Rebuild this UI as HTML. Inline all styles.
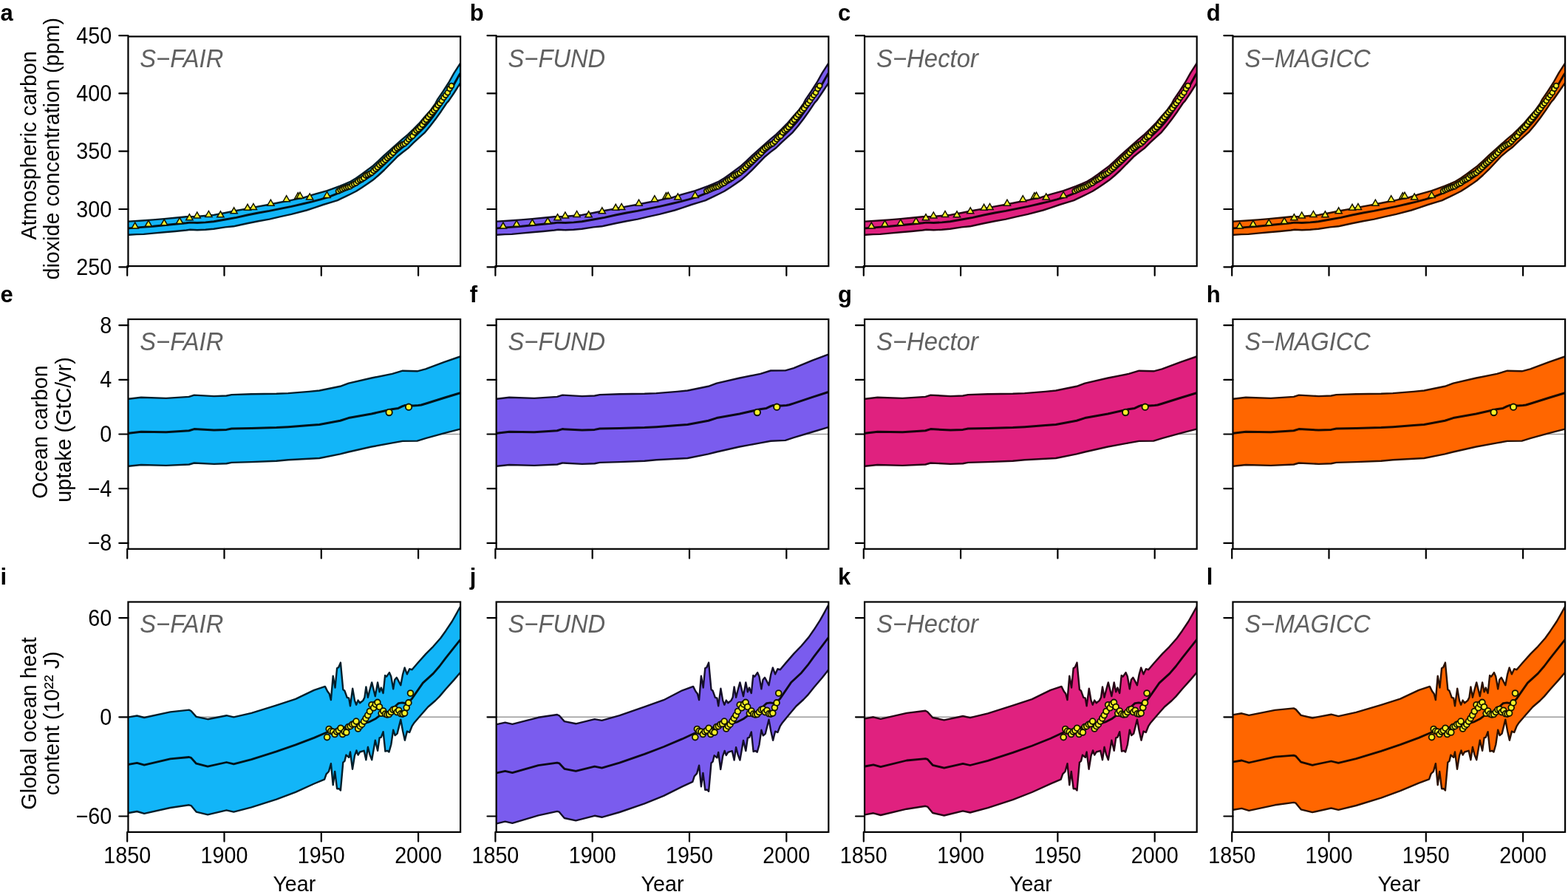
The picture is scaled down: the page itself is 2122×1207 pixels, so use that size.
<!DOCTYPE html>
<html lang="en">
<head>
<meta charset="utf-8">
<title>Model hindcasts: CO2, ocean carbon uptake, ocean heat content</title>
<style>
html,body{margin:0;padding:0;background:#fff;}
body{width:2122px;height:1207px;overflow:hidden;}
svg{display:block;font-family:"Liberation Sans",sans-serif;}
.fr{fill:none;stroke:#000;stroke-width:2.2;}
.tk{stroke:#000;stroke-width:2.2;stroke-linecap:round;fill:none;}
.tl{font-size:31.0px;fill:#000;}
.te{text-anchor:end;}
.tm{text-anchor:middle;}
.yl{font-size:29.3px;fill:#000;text-anchor:middle;}
.nm{font-size:34.5px;font-style:italic;fill:#606060;}
.pl{font-size:31px;font-weight:bold;fill:#000;}
.ob{fill:#f8f228;stroke:#141400;stroke-width:1.5;stroke-linejoin:miter;}
.zl{stroke:#9a9a9a;stroke-width:1.6;}
</style>
</head>
<body>
<svg width="2122" height="1207" viewBox="0 0 2122 1207">
<rect width="2122" height="1207" fill="#fff"/>
<defs>
<clipPath id="cp00"><rect x="173.45" y="49.4" width="449.65" height="310.7"/></clipPath>
<clipPath id="cp01"><rect x="671.65" y="49.4" width="449.65" height="310.7"/></clipPath>
<clipPath id="cp02"><rect x="1170.05" y="49.4" width="449.65" height="310.7"/></clipPath>
<clipPath id="cp03"><rect x="1668.45" y="49.4" width="449.65" height="310.7"/></clipPath>
<clipPath id="cp10"><rect x="173.45" y="432.0" width="449.65" height="310.8"/></clipPath>
<clipPath id="cp11"><rect x="671.65" y="432.0" width="449.65" height="310.8"/></clipPath>
<clipPath id="cp12"><rect x="1170.05" y="432.0" width="449.65" height="310.8"/></clipPath>
<clipPath id="cp13"><rect x="1668.45" y="432.0" width="449.65" height="310.8"/></clipPath>
<clipPath id="cp20"><rect x="173.45" y="814.5" width="449.65" height="311.4"/></clipPath>
<clipPath id="cp21"><rect x="671.65" y="814.5" width="449.65" height="311.4"/></clipPath>
<clipPath id="cp22"><rect x="1170.05" y="814.5" width="449.65" height="311.4"/></clipPath>
<clipPath id="cp23"><rect x="1668.45" y="814.5" width="449.65" height="311.4"/></clipPath>
</defs>
<g id="panel-a">
<g clip-path="url(#cp00)">
<polygon points="171.5,299.8 174.5,299.6 192.4,298.5 207.3,297.4 222.2,296.1 237.1,294.8 252.0,293.3 263.2,293.1 274.4,292.2 289.3,290.9 304.9,288.0 319.8,285.0 334.7,282.4 349.7,279.4 364.6,276.8 379.5,273.8 394.4,270.9 400.0,269.7 411.2,267.3 424.6,263.2 433.6,260.6 442.5,258.2 452.2,254.7 459.7,251.9 467.1,248.9 474.6,245.5 482.0,241.0 489.5,235.8 496.9,230.2 504.4,224.6 511.9,217.9 520.0,210.1 529.8,201.5 544.7,188.1 552.2,181.8 559.7,174.7 567.1,167.2 574.6,158.3 582.0,150.1 589.5,139.6 592.2,134.4 599.7,123.5 607.1,112.0 614.6,98.6 622.8,85.9 624.3,83.6 625.0,82.5 625.0,109.4 624.3,110.5 622.8,112.7 614.6,125.5 607.1,136.6 604.4,139.5 596.9,150.7 589.5,161.1 582.0,170.8 574.6,179.7 567.1,186.4 559.7,193.2 552.2,200.6 544.7,206.2 537.3,212.3 520.0,230.0 511.9,237.5 504.4,243.8 496.9,249.1 489.5,253.9 482.0,258.8 474.6,262.5 467.1,266.2 459.7,269.6 456.7,271.1 448.5,273.7 437.3,277.0 426.1,280.8 414.9,284.5 394.4,289.9 379.5,293.2 364.6,296.6 349.7,299.2 334.7,302.2 319.8,305.5 316.1,306.3 304.9,307.4 289.3,309.7 278.1,310.8 266.9,311.3 257.2,310.8 252.0,311.5 237.1,313.0 222.2,314.3 207.3,315.6 194.6,316.9 184.9,317.1 174.5,317.7 171.5,317.9" fill="#12b5f8" stroke="#031e2a" stroke-width="2.4" stroke-linejoin="round"/>
<polyline points="171.5,309.2 174.5,308.9 192.4,307.4 207.3,306.3 222.2,304.8 237.1,303.3 252.0,301.8 257.2,301.1 266.9,301.5 278.1,300.9 289.3,299.8 304.9,297.0 319.8,294.4 334.7,291.0 349.7,288.0 364.6,285.4 379.5,282.4 394.4,279.4 400.0,278.1 411.2,275.5 422.4,272.9 433.6,269.9 444.7,266.6 452.2,263.6 459.7,260.6 470.0,256.2 478.0,252.5 486.0,248.1 494.0,243.0 502.0,237.8 510.0,231.7 518.0,224.3 526.0,216.6 532.0,210.8 538.0,205.0 544.0,200.0 550.0,195.2 556.0,189.7 562.0,183.9 568.0,178.2 574.0,172.2 580.0,165.3 586.0,157.6 592.0,148.9 598.0,140.3 604.0,131.2 610.0,122.2 616.0,111.2 622.0,100.5 624.5,97.1 625.0,96.4" fill="none" stroke="#011218" stroke-width="2.9" stroke-linejoin="round"/>
<g class="ob"><polygon points="182.7,301.1 178.1,309.1 187.3,309.1"/>
<polygon points="200.9,298.3 196.3,306.3 205.5,306.3"/>
<polygon points="222.2,296.8 217.6,304.8 226.8,304.8"/>
<polygon points="243.1,294.6 238.5,302.6 247.7,302.6"/>
<polygon points="256.4,289.7 251.8,297.7 261.0,297.7"/>
<polygon points="266.7,287.0 262.1,295.0 271.3,295.0"/>
<polygon points="282.4,285.5 277.8,293.5 287.0,293.5"/>
<polygon points="298.4,285.8 293.8,293.8 303.0,293.8"/>
<polygon points="316.6,280.8 312.0,288.8 321.2,288.8"/>
<polygon points="335.0,276.3 330.4,284.3 339.6,284.3"/>
<polygon points="342.9,275.5 338.3,283.5 347.5,283.5"/>
<polygon points="366.4,270.2 361.8,278.2 371.0,278.2"/>
<polygon points="387.7,264.7 383.1,272.7 392.3,272.7"/>
<polygon points="403.3,260.7 398.7,268.7 407.9,268.7"/>
<polygon points="406.0,260.2 401.4,268.2 410.6,268.2"/>
<polygon points="419.2,261.9 414.6,269.9 423.8,269.9"/>
<polygon points="442.5,259.5 437.9,267.5 447.1,267.5"/>
<g stroke-width="1.8"><circle cx="458.0" cy="258.5" r="3.4"/>
<circle cx="460.7" cy="257.0" r="3.4"/>
<circle cx="463.3" cy="255.9" r="3.4"/>
<circle cx="465.9" cy="254.7" r="3.4"/>
<circle cx="468.6" cy="253.9" r="3.4"/>
<circle cx="471.2" cy="252.9" r="3.4"/>
<circle cx="473.9" cy="252.3" r="3.4"/>
<circle cx="476.5" cy="250.3" r="3.4"/>
<circle cx="479.1" cy="249.0" r="3.4"/>
<circle cx="481.8" cy="247.7" r="3.4"/>
<circle cx="484.4" cy="245.2" r="3.4"/>
<circle cx="487.1" cy="243.6" r="3.4"/>
<circle cx="489.7" cy="242.6" r="3.4"/>
<circle cx="492.3" cy="240.8" r="3.4"/>
<circle cx="495.0" cy="237.4" r="3.4"/>
<circle cx="497.6" cy="236.6" r="3.4"/>
<circle cx="500.2" cy="235.1" r="3.4"/>
<circle cx="502.9" cy="233.7" r="3.4"/>
<circle cx="505.5" cy="230.9" r="3.4"/>
<circle cx="508.2" cy="228.5" r="3.4"/>
<circle cx="510.8" cy="226.2" r="3.4"/>
<circle cx="513.4" cy="223.2" r="3.4"/>
<circle cx="516.1" cy="221.1" r="3.4"/>
<circle cx="518.7" cy="219.0" r="3.4"/>
<circle cx="521.3" cy="216.4" r="3.4"/>
<circle cx="524.0" cy="213.7" r="3.4"/>
<circle cx="526.6" cy="211.4" r="3.4"/>
<circle cx="529.3" cy="209.4" r="3.4"/>
<circle cx="531.9" cy="206.7" r="3.4"/>
<circle cx="534.5" cy="203.0" r="3.4"/>
<circle cx="537.2" cy="200.6" r="3.4"/>
<circle cx="539.8" cy="198.7" r="3.4"/>
<circle cx="542.5" cy="196.7" r="3.4"/>
<circle cx="545.1" cy="195.4" r="3.4"/>
<circle cx="547.7" cy="194.3" r="3.4"/>
<circle cx="550.4" cy="191.6" r="3.4"/>
<circle cx="553.0" cy="188.4" r="3.4"/>
<circle cx="555.6" cy="185.6" r="3.4"/>
<circle cx="558.3" cy="183.9" r="3.4"/>
<circle cx="560.9" cy="179.2" r="3.4"/>
<circle cx="563.6" cy="176.5" r="3.4"/>
<circle cx="566.2" cy="174.7" r="3.4"/>
<circle cx="568.8" cy="172.1" r="3.4"/>
<circle cx="571.5" cy="168.8" r="3.4"/>
<circle cx="574.1" cy="164.8" r="3.4"/>
<circle cx="576.7" cy="162.1" r="3.4"/>
<circle cx="579.4" cy="158.5" r="3.4"/>
<circle cx="582.0" cy="155.2" r="3.4"/>
<circle cx="584.7" cy="152.1" r="3.4"/>
<circle cx="587.3" cy="149.3" r="3.4"/>
<circle cx="589.9" cy="146.4" r="3.4"/>
<circle cx="592.6" cy="142.5" r="3.4"/>
<circle cx="595.2" cy="139.8" r="3.4"/>
<circle cx="597.8" cy="136.3" r="3.4"/>
<circle cx="600.5" cy="132.0" r="3.4"/>
<circle cx="603.1" cy="128.8" r="3.4"/>
<circle cx="605.8" cy="125.3" r="3.4"/>
<circle cx="608.4" cy="119.9" r="3.4"/>
<circle cx="611.0" cy="116.1" r="3.4"/></g></g>
</g>
<rect class="fr" x="173.45" y="49.4" width="449.65" height="310.7"/>
<path class="tk" d="M161.3,48.2H173.4M161.3,126.4H173.4M161.3,204.7H173.4M161.3,283.0H173.4M161.3,361.3H173.4M172.2,360.1V372.8M303.5,360.1V372.8M434.8,360.1V372.8M566.1,360.1V372.8"/>
<text class="tl te" transform="translate(151.3,58.7) scale(0.927,1)">450</text>
<text class="tl te" transform="translate(151.3,136.9) scale(0.927,1)">400</text>
<text class="tl te" transform="translate(151.3,215.2) scale(0.927,1)">350</text>
<text class="tl te" transform="translate(151.3,293.5) scale(0.927,1)">300</text>
<text class="tl te" transform="translate(151.3,371.8) scale(0.927,1)">250</text>
<text class="yl" transform="translate(48.9,196.8) rotate(-90) scale(0.981,1)">Atmospheric carbon</text>
<text class="yl" transform="translate(80.3,201.3) rotate(-90) scale(0.981,1)">dioxide concentration (ppm)</text>
<text class="nm" transform="translate(189.3,90.9) scale(0.948,1)">S−FAIR</text>
<text class="pl" transform="translate(0.5,27.5)">a</text>
</g>
<g id="panel-b">
<g clip-path="url(#cp01)">
<polygon points="669.7,299.8 672.7,299.6 690.6,298.5 705.5,297.4 720.4,296.1 735.3,294.8 750.2,293.3 761.4,293.1 772.6,292.2 787.5,290.9 803.1,288.0 818.0,285.0 832.9,282.4 847.9,279.4 862.8,276.8 877.7,273.8 892.6,270.9 898.2,269.7 909.4,267.3 922.8,263.2 931.8,260.6 940.7,258.2 950.4,254.7 957.9,251.9 965.3,248.9 972.8,245.5 980.2,241.0 987.7,235.8 995.1,230.2 1002.6,224.6 1010.1,217.9 1018.2,210.1 1028.0,201.5 1042.9,188.1 1050.4,181.8 1057.9,174.7 1065.3,167.2 1072.8,158.3 1080.2,150.1 1087.7,139.6 1090.4,134.4 1097.9,123.5 1105.3,112.0 1112.8,98.6 1121.0,85.9 1122.5,83.6 1123.2,82.5 1123.2,109.4 1122.5,110.5 1121.0,112.6 1112.8,125.0 1105.3,136.0 1102.6,138.9 1095.1,150.1 1087.7,160.5 1080.2,170.2 1072.8,179.1 1065.3,185.8 1057.9,192.6 1050.4,200.0 1042.9,205.6 1035.5,211.7 1018.2,229.7 1010.1,237.3 1002.6,243.8 995.1,249.1 987.7,253.9 980.2,258.8 972.8,262.5 965.3,266.2 957.9,269.6 954.9,271.1 946.7,273.7 935.5,277.0 924.3,280.8 913.1,284.5 892.6,289.9 877.7,293.2 862.8,296.6 847.9,299.2 832.9,302.2 818.0,305.5 814.3,306.3 803.1,307.4 787.5,309.7 776.3,310.8 765.1,311.3 755.4,310.8 750.2,311.5 735.3,313.0 720.4,314.3 705.5,315.6 692.8,316.9 683.1,317.1 672.7,317.7 669.7,317.9" fill="#7a5cee" stroke="#140f28" stroke-width="2.4" stroke-linejoin="round"/>
<polyline points="669.7,309.2 672.7,308.9 690.6,307.4 705.5,306.3 720.4,304.8 735.3,303.3 750.2,301.8 755.4,301.1 765.1,301.5 776.3,300.9 787.5,299.8 803.1,297.0 818.0,294.4 832.9,291.0 847.9,288.0 862.8,285.4 877.7,282.4 892.6,279.4 898.2,278.1 909.4,275.5 920.6,272.9 931.8,269.9 942.9,266.6 950.4,263.6 957.9,260.6 968.2,256.2 976.2,252.5 984.2,248.1 992.2,243.0 1000.2,237.8 1008.2,231.6 1016.2,224.2 1024.2,216.4 1030.2,210.6 1036.2,204.7 1042.2,199.7 1048.2,194.9 1054.2,189.4 1060.2,183.6 1066.2,177.9 1072.2,171.9 1078.2,165.0 1084.2,157.3 1090.2,148.6 1096.2,140.0 1102.2,130.9 1108.2,121.9 1114.2,111.0 1120.2,100.4 1122.7,97.1 1123.2,96.4" fill="none" stroke="#0c0917" stroke-width="2.9" stroke-linejoin="round"/>
<g class="ob"><polygon points="680.9,301.1 676.3,309.1 685.5,309.1"/>
<polygon points="699.1,298.3 694.5,306.3 703.7,306.3"/>
<polygon points="720.4,296.8 715.8,304.8 725.0,304.8"/>
<polygon points="741.3,294.6 736.7,302.6 745.9,302.6"/>
<polygon points="754.6,289.7 750.0,297.7 759.2,297.7"/>
<polygon points="764.9,287.0 760.3,295.0 769.5,295.0"/>
<polygon points="780.6,285.5 776.0,293.5 785.2,293.5"/>
<polygon points="796.6,285.8 792.0,293.8 801.2,293.8"/>
<polygon points="814.8,280.8 810.2,288.8 819.4,288.8"/>
<polygon points="833.2,276.3 828.6,284.3 837.8,284.3"/>
<polygon points="841.1,275.5 836.5,283.5 845.7,283.5"/>
<polygon points="864.6,270.2 860.0,278.2 869.2,278.2"/>
<polygon points="885.9,264.7 881.3,272.7 890.5,272.7"/>
<polygon points="901.5,260.7 896.9,268.7 906.1,268.7"/>
<polygon points="904.2,260.2 899.6,268.2 908.8,268.2"/>
<polygon points="917.4,261.9 912.8,269.9 922.0,269.9"/>
<polygon points="940.7,259.5 936.1,267.5 945.3,267.5"/>
<g stroke-width="1.8"><circle cx="956.2" cy="258.5" r="3.4"/>
<circle cx="958.9" cy="257.0" r="3.4"/>
<circle cx="961.5" cy="255.9" r="3.4"/>
<circle cx="964.1" cy="254.7" r="3.4"/>
<circle cx="966.8" cy="253.9" r="3.4"/>
<circle cx="969.4" cy="252.9" r="3.4"/>
<circle cx="972.1" cy="252.3" r="3.4"/>
<circle cx="974.7" cy="250.3" r="3.4"/>
<circle cx="977.3" cy="249.0" r="3.4"/>
<circle cx="980.0" cy="247.7" r="3.4"/>
<circle cx="982.6" cy="245.2" r="3.4"/>
<circle cx="985.3" cy="243.6" r="3.4"/>
<circle cx="987.9" cy="242.6" r="3.4"/>
<circle cx="990.5" cy="240.8" r="3.4"/>
<circle cx="993.2" cy="237.4" r="3.4"/>
<circle cx="995.8" cy="236.6" r="3.4"/>
<circle cx="998.4" cy="235.1" r="3.4"/>
<circle cx="1001.1" cy="233.7" r="3.4"/>
<circle cx="1003.7" cy="230.9" r="3.4"/>
<circle cx="1006.4" cy="228.5" r="3.4"/>
<circle cx="1009.0" cy="226.2" r="3.4"/>
<circle cx="1011.6" cy="223.2" r="3.4"/>
<circle cx="1014.3" cy="221.1" r="3.4"/>
<circle cx="1016.9" cy="219.0" r="3.4"/>
<circle cx="1019.5" cy="216.4" r="3.4"/>
<circle cx="1022.2" cy="213.7" r="3.4"/>
<circle cx="1024.8" cy="211.4" r="3.4"/>
<circle cx="1027.5" cy="209.4" r="3.4"/>
<circle cx="1030.1" cy="206.7" r="3.4"/>
<circle cx="1032.7" cy="203.0" r="3.4"/>
<circle cx="1035.4" cy="200.6" r="3.4"/>
<circle cx="1038.0" cy="198.7" r="3.4"/>
<circle cx="1040.7" cy="196.7" r="3.4"/>
<circle cx="1043.3" cy="195.4" r="3.4"/>
<circle cx="1045.9" cy="194.3" r="3.4"/>
<circle cx="1048.6" cy="191.6" r="3.4"/>
<circle cx="1051.2" cy="188.4" r="3.4"/>
<circle cx="1053.8" cy="185.6" r="3.4"/>
<circle cx="1056.5" cy="183.9" r="3.4"/>
<circle cx="1059.1" cy="179.2" r="3.4"/>
<circle cx="1061.8" cy="176.5" r="3.4"/>
<circle cx="1064.4" cy="174.7" r="3.4"/>
<circle cx="1067.0" cy="172.1" r="3.4"/>
<circle cx="1069.7" cy="168.8" r="3.4"/>
<circle cx="1072.3" cy="164.8" r="3.4"/>
<circle cx="1074.9" cy="162.1" r="3.4"/>
<circle cx="1077.6" cy="158.5" r="3.4"/>
<circle cx="1080.2" cy="155.2" r="3.4"/>
<circle cx="1082.9" cy="152.1" r="3.4"/>
<circle cx="1085.5" cy="149.3" r="3.4"/>
<circle cx="1088.1" cy="146.4" r="3.4"/>
<circle cx="1090.8" cy="142.5" r="3.4"/>
<circle cx="1093.4" cy="139.8" r="3.4"/>
<circle cx="1096.0" cy="136.3" r="3.4"/>
<circle cx="1098.7" cy="132.0" r="3.4"/>
<circle cx="1101.3" cy="128.8" r="3.4"/>
<circle cx="1104.0" cy="125.3" r="3.4"/>
<circle cx="1106.6" cy="119.9" r="3.4"/>
<circle cx="1109.2" cy="116.1" r="3.4"/></g></g>
</g>
<rect class="fr" x="671.65" y="49.4" width="449.65" height="310.7"/>
<path class="tk" d="M659.5,48.2H671.6M659.5,126.4H671.6M659.5,204.7H671.6M659.5,283.0H671.6M659.5,361.3H671.6M670.4,360.1V372.8M801.7,360.1V372.8M933.0,360.1V372.8M1064.3,360.1V372.8"/>
<text class="nm" transform="translate(687.5,90.9) scale(0.948,1)">S−FUND</text>
<text class="pl" transform="translate(635.8,27.5)">b</text>
</g>
<g id="panel-c">
<g clip-path="url(#cp02)">
<polygon points="1168.1,299.8 1171.1,299.6 1189.0,298.5 1203.9,297.4 1218.8,296.1 1233.7,294.8 1248.6,293.3 1259.8,293.1 1271.0,292.2 1285.9,290.9 1301.5,288.0 1316.4,285.0 1331.3,282.4 1346.3,279.4 1361.2,276.8 1376.1,273.8 1391.0,270.9 1396.6,269.7 1407.8,267.3 1421.2,263.2 1430.2,260.6 1439.1,258.2 1448.8,254.7 1456.3,251.9 1463.7,248.9 1471.2,245.5 1478.6,241.0 1486.1,235.8 1493.5,230.2 1501.0,224.6 1508.5,217.9 1516.6,210.1 1526.4,201.5 1541.3,188.1 1548.8,181.8 1556.3,174.7 1563.7,167.2 1571.2,158.3 1578.6,150.1 1586.1,139.6 1588.8,134.4 1596.3,123.5 1603.7,112.0 1611.2,98.6 1619.4,85.9 1620.9,83.6 1621.6,82.5 1621.6,109.4 1620.9,110.5 1619.4,112.7 1611.2,125.5 1603.7,136.6 1601.0,139.5 1593.5,150.7 1586.1,161.1 1578.6,170.8 1571.2,179.7 1563.7,186.4 1556.3,193.2 1548.8,200.6 1541.3,206.2 1533.9,212.3 1516.6,230.0 1508.5,237.5 1501.0,243.8 1493.5,249.1 1486.1,253.9 1478.6,258.8 1471.2,262.5 1463.7,266.2 1456.3,269.6 1453.3,271.1 1445.1,273.7 1433.9,277.0 1422.7,280.8 1411.5,284.5 1391.0,289.9 1376.1,293.2 1361.2,296.6 1346.3,299.2 1331.3,302.2 1316.4,305.5 1312.7,306.3 1301.5,307.4 1285.9,309.7 1274.7,310.8 1263.5,311.3 1253.8,310.8 1248.6,311.5 1233.7,313.0 1218.8,314.3 1203.9,315.6 1191.2,316.9 1181.5,317.1 1171.1,317.7 1168.1,317.9" fill="#e0217f" stroke="#260515" stroke-width="2.4" stroke-linejoin="round"/>
<polyline points="1168.1,309.2 1171.1,308.9 1189.0,307.4 1203.9,306.3 1218.8,304.8 1233.7,303.3 1248.6,301.8 1253.8,301.1 1263.5,301.5 1274.7,300.9 1285.9,299.8 1301.5,297.0 1316.4,294.4 1331.3,291.0 1346.3,288.0 1361.2,285.4 1376.1,282.4 1391.0,279.4 1396.6,278.1 1407.8,275.5 1419.0,272.9 1430.2,269.9 1441.3,266.6 1448.8,263.6 1456.3,260.6 1466.6,256.2 1474.6,252.5 1482.6,248.1 1490.6,243.0 1498.6,237.8 1506.6,231.7 1514.6,224.3 1522.6,216.6 1528.6,210.8 1534.6,205.0 1540.6,200.0 1546.6,195.2 1552.6,189.7 1558.6,183.9 1564.6,178.2 1570.6,172.2 1576.6,165.3 1582.6,157.6 1588.6,148.9 1594.6,140.3 1600.6,131.2 1606.6,122.2 1612.6,111.2 1618.6,100.5 1621.1,97.1 1621.6,96.4" fill="none" stroke="#16030c" stroke-width="2.9" stroke-linejoin="round"/>
<g class="ob"><polygon points="1179.3,301.1 1174.7,309.1 1183.9,309.1"/>
<polygon points="1197.5,298.3 1192.9,306.3 1202.1,306.3"/>
<polygon points="1218.8,296.8 1214.2,304.8 1223.4,304.8"/>
<polygon points="1239.7,294.6 1235.1,302.6 1244.3,302.6"/>
<polygon points="1253.0,289.7 1248.4,297.7 1257.6,297.7"/>
<polygon points="1263.3,287.0 1258.7,295.0 1267.9,295.0"/>
<polygon points="1279.0,285.5 1274.4,293.5 1283.6,293.5"/>
<polygon points="1295.0,285.8 1290.4,293.8 1299.6,293.8"/>
<polygon points="1313.2,280.8 1308.6,288.8 1317.8,288.8"/>
<polygon points="1331.6,276.3 1327.0,284.3 1336.2,284.3"/>
<polygon points="1339.5,275.5 1334.9,283.5 1344.1,283.5"/>
<polygon points="1363.0,270.2 1358.4,278.2 1367.6,278.2"/>
<polygon points="1384.3,264.7 1379.7,272.7 1388.9,272.7"/>
<polygon points="1399.9,260.7 1395.3,268.7 1404.5,268.7"/>
<polygon points="1402.6,260.2 1398.0,268.2 1407.2,268.2"/>
<polygon points="1415.8,261.9 1411.2,269.9 1420.4,269.9"/>
<polygon points="1439.1,259.5 1434.5,267.5 1443.7,267.5"/>
<g stroke-width="1.8"><circle cx="1454.6" cy="258.5" r="3.4"/>
<circle cx="1457.3" cy="257.0" r="3.4"/>
<circle cx="1459.9" cy="255.9" r="3.4"/>
<circle cx="1462.5" cy="254.7" r="3.4"/>
<circle cx="1465.2" cy="253.9" r="3.4"/>
<circle cx="1467.8" cy="252.9" r="3.4"/>
<circle cx="1470.5" cy="252.3" r="3.4"/>
<circle cx="1473.1" cy="250.3" r="3.4"/>
<circle cx="1475.7" cy="249.0" r="3.4"/>
<circle cx="1478.4" cy="247.7" r="3.4"/>
<circle cx="1481.0" cy="245.2" r="3.4"/>
<circle cx="1483.7" cy="243.6" r="3.4"/>
<circle cx="1486.3" cy="242.6" r="3.4"/>
<circle cx="1488.9" cy="240.8" r="3.4"/>
<circle cx="1491.6" cy="237.4" r="3.4"/>
<circle cx="1494.2" cy="236.6" r="3.4"/>
<circle cx="1496.8" cy="235.1" r="3.4"/>
<circle cx="1499.5" cy="233.7" r="3.4"/>
<circle cx="1502.1" cy="230.9" r="3.4"/>
<circle cx="1504.8" cy="228.5" r="3.4"/>
<circle cx="1507.4" cy="226.2" r="3.4"/>
<circle cx="1510.0" cy="223.2" r="3.4"/>
<circle cx="1512.7" cy="221.1" r="3.4"/>
<circle cx="1515.3" cy="219.0" r="3.4"/>
<circle cx="1517.9" cy="216.4" r="3.4"/>
<circle cx="1520.6" cy="213.7" r="3.4"/>
<circle cx="1523.2" cy="211.4" r="3.4"/>
<circle cx="1525.9" cy="209.4" r="3.4"/>
<circle cx="1528.5" cy="206.7" r="3.4"/>
<circle cx="1531.1" cy="203.0" r="3.4"/>
<circle cx="1533.8" cy="200.6" r="3.4"/>
<circle cx="1536.4" cy="198.7" r="3.4"/>
<circle cx="1539.1" cy="196.7" r="3.4"/>
<circle cx="1541.7" cy="195.4" r="3.4"/>
<circle cx="1544.3" cy="194.3" r="3.4"/>
<circle cx="1547.0" cy="191.6" r="3.4"/>
<circle cx="1549.6" cy="188.4" r="3.4"/>
<circle cx="1552.2" cy="185.6" r="3.4"/>
<circle cx="1554.9" cy="183.9" r="3.4"/>
<circle cx="1557.5" cy="179.2" r="3.4"/>
<circle cx="1560.2" cy="176.5" r="3.4"/>
<circle cx="1562.8" cy="174.7" r="3.4"/>
<circle cx="1565.4" cy="172.1" r="3.4"/>
<circle cx="1568.1" cy="168.8" r="3.4"/>
<circle cx="1570.7" cy="164.8" r="3.4"/>
<circle cx="1573.3" cy="162.1" r="3.4"/>
<circle cx="1576.0" cy="158.5" r="3.4"/>
<circle cx="1578.6" cy="155.2" r="3.4"/>
<circle cx="1581.3" cy="152.1" r="3.4"/>
<circle cx="1583.9" cy="149.3" r="3.4"/>
<circle cx="1586.5" cy="146.4" r="3.4"/>
<circle cx="1589.2" cy="142.5" r="3.4"/>
<circle cx="1591.8" cy="139.8" r="3.4"/>
<circle cx="1594.4" cy="136.3" r="3.4"/>
<circle cx="1597.1" cy="132.0" r="3.4"/>
<circle cx="1599.7" cy="128.8" r="3.4"/>
<circle cx="1602.4" cy="125.3" r="3.4"/>
<circle cx="1605.0" cy="119.9" r="3.4"/>
<circle cx="1607.6" cy="116.1" r="3.4"/></g></g>
</g>
<rect class="fr" x="1170.05" y="49.4" width="449.65" height="310.7"/>
<path class="tk" d="M1158.0,48.2H1170.0M1158.0,126.4H1170.0M1158.0,204.7H1170.0M1158.0,283.0H1170.0M1158.0,361.3H1170.0M1168.8,360.1V372.8M1300.1,360.1V372.8M1431.4,360.1V372.8M1562.7,360.1V372.8"/>
<text class="nm" transform="translate(1186.0,90.9) scale(0.953,1)">S−Hector</text>
<text class="pl" transform="translate(1134.0,27.5)">c</text>
</g>
<g id="panel-d">
<g clip-path="url(#cp03)">
<polygon points="1666.5,299.8 1669.5,299.6 1687.4,298.5 1702.3,297.4 1717.2,296.1 1732.1,294.8 1747.0,293.3 1758.2,293.1 1769.4,292.2 1784.3,290.9 1799.9,288.0 1814.8,285.0 1829.7,282.4 1844.7,279.4 1859.6,276.8 1874.5,273.8 1889.4,270.9 1895.0,269.7 1906.2,267.3 1919.6,263.2 1928.6,260.6 1937.5,258.2 1947.2,254.7 1954.7,251.9 1962.1,248.9 1969.6,245.5 1977.0,241.0 1984.5,235.8 1991.9,230.2 1999.4,224.6 2006.9,217.9 2015.0,210.1 2024.8,201.5 2039.7,188.1 2047.2,181.8 2054.7,174.7 2062.1,167.2 2069.6,158.3 2077.0,150.1 2084.5,139.6 2087.2,134.4 2094.7,123.5 2102.1,112.0 2109.6,98.6 2117.8,85.9 2119.3,83.6 2120.0,82.5 2120.0,109.4 2119.3,110.4 2117.8,112.5 2109.6,124.2 2102.1,135.0 2099.4,137.9 2091.9,149.1 2084.5,159.5 2077.0,169.2 2069.6,178.1 2062.1,184.8 2054.7,191.6 2047.2,199.0 2039.7,204.6 2032.3,210.8 2015.0,229.2 2006.9,237.0 1999.4,243.7 1991.9,249.1 1984.5,253.9 1977.0,258.8 1969.6,262.5 1962.1,266.2 1954.7,269.6 1951.7,271.1 1943.5,273.7 1932.3,277.0 1921.1,280.8 1909.9,284.5 1889.4,289.9 1874.5,293.2 1859.6,296.6 1844.7,299.2 1829.7,302.2 1814.8,305.5 1811.1,306.3 1799.9,307.4 1784.3,309.7 1773.1,310.8 1761.9,311.3 1752.2,310.8 1747.0,311.5 1732.1,313.0 1717.2,314.3 1702.3,315.6 1689.6,316.9 1679.9,317.1 1669.5,317.7 1666.5,317.9" fill="#ff6600" stroke="#2b1100" stroke-width="2.4" stroke-linejoin="round"/>
<polyline points="1666.5,309.2 1669.5,308.9 1687.4,307.4 1702.3,306.3 1717.2,304.8 1732.1,303.3 1747.0,301.8 1752.2,301.1 1761.9,301.5 1773.1,300.9 1784.3,299.8 1799.9,297.0 1814.8,294.4 1829.7,291.0 1844.7,288.0 1859.6,285.4 1874.5,282.4 1889.4,279.4 1895.0,278.1 1906.2,275.5 1917.4,272.9 1928.6,269.9 1939.7,266.6 1947.2,263.6 1954.7,260.6 1965.0,256.2 1973.0,252.5 1981.0,248.1 1989.0,243.0 1997.0,237.8 2005.0,231.5 2013.0,224.0 2021.0,216.1 2027.0,210.2 2033.0,204.3 2039.0,199.2 2045.0,194.4 2051.0,188.9 2057.0,183.1 2063.0,177.4 2069.0,171.4 2075.0,164.5 2081.0,156.8 2087.0,148.1 2093.0,139.5 2099.0,130.4 2105.0,121.4 2111.0,110.6 2117.0,100.3 2119.5,97.0 2120.0,96.4" fill="none" stroke="#190a00" stroke-width="2.9" stroke-linejoin="round"/>
<g class="ob"><polygon points="1677.7,301.1 1673.1,309.1 1682.3,309.1"/>
<polygon points="1695.9,298.3 1691.3,306.3 1700.5,306.3"/>
<polygon points="1717.2,296.8 1712.6,304.8 1721.8,304.8"/>
<polygon points="1738.1,294.6 1733.5,302.6 1742.7,302.6"/>
<polygon points="1751.4,289.7 1746.8,297.7 1756.0,297.7"/>
<polygon points="1761.7,287.0 1757.1,295.0 1766.3,295.0"/>
<polygon points="1777.4,285.5 1772.8,293.5 1782.0,293.5"/>
<polygon points="1793.4,285.8 1788.8,293.8 1798.0,293.8"/>
<polygon points="1811.6,280.8 1807.0,288.8 1816.2,288.8"/>
<polygon points="1830.0,276.3 1825.4,284.3 1834.6,284.3"/>
<polygon points="1837.9,275.5 1833.3,283.5 1842.5,283.5"/>
<polygon points="1861.4,270.2 1856.8,278.2 1866.0,278.2"/>
<polygon points="1882.7,264.7 1878.1,272.7 1887.3,272.7"/>
<polygon points="1898.3,260.7 1893.7,268.7 1902.9,268.7"/>
<polygon points="1901.0,260.2 1896.4,268.2 1905.6,268.2"/>
<polygon points="1914.2,261.9 1909.6,269.9 1918.8,269.9"/>
<polygon points="1937.5,259.5 1932.9,267.5 1942.1,267.5"/>
<g stroke-width="1.8"><circle cx="1953.0" cy="258.5" r="3.4"/>
<circle cx="1955.7" cy="257.0" r="3.4"/>
<circle cx="1958.3" cy="255.9" r="3.4"/>
<circle cx="1960.9" cy="254.7" r="3.4"/>
<circle cx="1963.6" cy="253.9" r="3.4"/>
<circle cx="1966.2" cy="252.9" r="3.4"/>
<circle cx="1968.9" cy="252.3" r="3.4"/>
<circle cx="1971.5" cy="250.3" r="3.4"/>
<circle cx="1974.1" cy="249.0" r="3.4"/>
<circle cx="1976.8" cy="247.7" r="3.4"/>
<circle cx="1979.4" cy="245.2" r="3.4"/>
<circle cx="1982.1" cy="243.6" r="3.4"/>
<circle cx="1984.7" cy="242.6" r="3.4"/>
<circle cx="1987.3" cy="240.8" r="3.4"/>
<circle cx="1990.0" cy="237.4" r="3.4"/>
<circle cx="1992.6" cy="236.6" r="3.4"/>
<circle cx="1995.2" cy="235.1" r="3.4"/>
<circle cx="1997.9" cy="233.7" r="3.4"/>
<circle cx="2000.5" cy="230.9" r="3.4"/>
<circle cx="2003.2" cy="228.5" r="3.4"/>
<circle cx="2005.8" cy="226.2" r="3.4"/>
<circle cx="2008.4" cy="223.2" r="3.4"/>
<circle cx="2011.1" cy="221.1" r="3.4"/>
<circle cx="2013.7" cy="219.0" r="3.4"/>
<circle cx="2016.3" cy="216.4" r="3.4"/>
<circle cx="2019.0" cy="213.7" r="3.4"/>
<circle cx="2021.6" cy="211.4" r="3.4"/>
<circle cx="2024.3" cy="209.4" r="3.4"/>
<circle cx="2026.9" cy="206.7" r="3.4"/>
<circle cx="2029.5" cy="203.0" r="3.4"/>
<circle cx="2032.2" cy="200.6" r="3.4"/>
<circle cx="2034.8" cy="198.7" r="3.4"/>
<circle cx="2037.5" cy="196.7" r="3.4"/>
<circle cx="2040.1" cy="195.4" r="3.4"/>
<circle cx="2042.7" cy="194.3" r="3.4"/>
<circle cx="2045.4" cy="191.6" r="3.4"/>
<circle cx="2048.0" cy="188.4" r="3.4"/>
<circle cx="2050.6" cy="185.6" r="3.4"/>
<circle cx="2053.3" cy="183.9" r="3.4"/>
<circle cx="2055.9" cy="179.2" r="3.4"/>
<circle cx="2058.6" cy="176.5" r="3.4"/>
<circle cx="2061.2" cy="174.7" r="3.4"/>
<circle cx="2063.8" cy="172.1" r="3.4"/>
<circle cx="2066.5" cy="168.8" r="3.4"/>
<circle cx="2069.1" cy="164.8" r="3.4"/>
<circle cx="2071.7" cy="162.1" r="3.4"/>
<circle cx="2074.4" cy="158.5" r="3.4"/>
<circle cx="2077.0" cy="155.2" r="3.4"/>
<circle cx="2079.7" cy="152.1" r="3.4"/>
<circle cx="2082.3" cy="149.3" r="3.4"/>
<circle cx="2084.9" cy="146.4" r="3.4"/>
<circle cx="2087.6" cy="142.5" r="3.4"/>
<circle cx="2090.2" cy="139.8" r="3.4"/>
<circle cx="2092.8" cy="136.3" r="3.4"/>
<circle cx="2095.5" cy="132.0" r="3.4"/>
<circle cx="2098.1" cy="128.8" r="3.4"/>
<circle cx="2100.8" cy="125.3" r="3.4"/>
<circle cx="2103.4" cy="119.9" r="3.4"/>
<circle cx="2106.0" cy="116.1" r="3.4"/></g></g>
</g>
<rect class="fr" x="1668.45" y="49.4" width="449.65" height="310.7"/>
<path class="tk" d="M1656.4,48.2H1668.5M1656.4,126.4H1668.5M1656.4,204.7H1668.5M1656.4,283.0H1668.5M1656.4,361.3H1668.5M1667.2,360.1V372.8M1798.5,360.1V372.8M1929.8,360.1V372.8M2061.1,360.1V372.8"/>
<text class="nm" transform="translate(1684.4,90.9) scale(0.94,1)">S−MAGICC</text>
<text class="pl" transform="translate(1632.8,27.5)">d</text>
</g>
<g id="panel-e">
<g clip-path="url(#cp10)">
<line class="zl" x1="173.4" x2="623.1" y1="587.5" y2="587.5"/>
<polygon points="171.5,540.0 174.1,539.7 191.0,537.7 224.8,538.9 255.8,536.9 262.8,534.6 289.6,536.1 306.5,535.5 313.5,534.1 340.3,533.2 374.1,532.7 390.0,532.1 418.2,529.9 432.3,528.5 460.4,522.8 471.7,518.6 502.7,511.5 530.8,505.9 544.9,501.7 564.6,502.3 575.9,499.4 601.3,489.9 622.7,482.5 625.0,481.7 625.0,580.0 622.7,580.6 601.3,586.2 575.9,593.2 564.6,596.6 544.9,596.9 530.8,599.4 502.7,604.5 471.7,611.5 460.4,614.4 432.3,620.0 418.2,620.8 390.0,622.3 374.1,623.7 340.3,625.1 313.5,625.9 306.5,627.3 289.6,627.9 262.8,626.5 255.8,628.5 224.8,629.9 191.0,629.0 174.1,630.7 171.5,631.0" fill="#12b5f8" stroke="#031e2a" stroke-width="2.4" stroke-linejoin="round"/>
<polyline points="171.5,586.5 174.1,586.2 191.0,584.2 224.8,584.8 255.8,582.8 262.8,580.6 289.6,582.0 306.5,581.4 313.5,580.0 340.3,579.4 374.1,578.6 390.0,577.7 418.2,575.5 432.3,574.4 460.4,569.3 471.7,565.6 502.7,560.0 530.3,553.8 539.0,552.4 544.8,549.6 547.7,548.6 553.0,548.4 559.3,549.0 566.0,548.6 570.0,548.0 575.9,546.2 601.3,538.3 622.7,531.8 625.0,531.1" fill="none" stroke="#011218" stroke-width="3.0" stroke-linejoin="round"/>
<g class="ob"><g stroke-width="1.9"><circle cx="526.6" cy="558.0" r="4.2"/>
<circle cx="553.1" cy="550.7" r="4.2"/></g></g>
</g>
<rect class="fr" x="173.45" y="432.0" width="449.65" height="310.8"/>
<path class="tk" d="M161.3,440.2H173.4M161.3,513.9H173.4M161.3,587.5H173.4M161.3,661.1H173.4M161.3,734.9H173.4M172.2,742.8V755.5M303.5,742.8V755.5M434.8,742.8V755.5M566.1,742.8V755.5"/>
<text class="tl te" transform="translate(151.3,450.7) scale(0.927,1)">8</text>
<text class="tl te" transform="translate(151.3,524.4) scale(0.927,1)">4</text>
<text class="tl te" transform="translate(151.3,598.0) scale(0.927,1)">0</text>
<text class="tl te" transform="translate(151.3,671.6) scale(0.927,1)">−4</text>
<text class="tl te" transform="translate(151.3,745.4) scale(0.927,1)">−8</text>
<text class="yl" transform="translate(63.8,584.5) rotate(-90) scale(0.981,1)">Ocean carbon</text>
<text class="yl" transform="translate(95.5,581.5) rotate(-90) scale(0.981,1)">uptake (GtC/yr)</text>
<text class="nm" transform="translate(189.3,473.5) scale(0.948,1)">S−FAIR</text>
<text class="pl" transform="translate(0.5,408.8)">e</text>
</g>
<g id="panel-f">
<g clip-path="url(#cp11)">
<line class="zl" x1="671.6" x2="1121.3" y1="587.5" y2="587.5"/>
<polygon points="669.7,540.0 672.3,539.7 689.2,537.7 723.0,538.9 754.0,536.9 761.0,534.6 787.8,536.1 804.7,535.5 811.7,534.1 838.5,533.2 872.3,532.7 888.2,532.1 916.4,529.9 930.5,528.5 958.6,522.8 969.9,518.6 1000.9,511.5 1029.0,505.9 1043.1,501.5 1062.8,501.4 1074.1,498.2 1099.5,487.7 1120.9,479.6 1123.2,478.7 1123.2,577.6 1120.9,578.2 1099.5,584.5 1074.1,592.2 1062.8,595.9 1043.1,596.8 1029.0,599.4 1000.9,604.5 969.9,611.5 958.6,614.4 930.5,620.0 916.4,620.8 888.2,622.3 872.3,623.7 838.5,625.1 811.7,625.9 804.7,627.3 787.8,627.9 761.0,626.5 754.0,628.5 723.0,629.9 689.2,629.0 672.3,630.7 669.7,631.0" fill="#7a5cee" stroke="#140f28" stroke-width="2.4" stroke-linejoin="round"/>
<polyline points="669.7,586.5 672.3,586.2 689.2,584.2 723.0,584.8 754.0,582.8 761.0,580.6 787.8,582.0 804.7,581.4 811.7,580.0 838.5,579.4 872.3,578.6 888.2,577.7 916.4,575.5 930.5,574.4 958.6,569.3 969.9,565.6 1000.9,560.0 1028.5,553.8 1037.2,552.4 1043.0,549.6 1045.9,548.6 1051.2,548.4 1057.5,549.0 1064.2,548.5 1068.2,547.8 1074.1,545.9 1099.5,537.4 1120.9,530.5 1123.2,529.7" fill="none" stroke="#0c0917" stroke-width="3.0" stroke-linejoin="round"/>
<g class="ob"><g stroke-width="1.9"><circle cx="1024.8" cy="558.0" r="4.2"/>
<circle cx="1051.3" cy="550.7" r="4.2"/></g></g>
</g>
<rect class="fr" x="671.65" y="432.0" width="449.65" height="310.8"/>
<path class="tk" d="M659.5,440.2H671.6M659.5,513.9H671.6M659.5,587.5H671.6M659.5,661.1H671.6M659.5,734.9H671.6M670.4,742.8V755.5M801.7,742.8V755.5M933.0,742.8V755.5M1064.3,742.8V755.5"/>
<text class="nm" transform="translate(687.5,473.5) scale(0.948,1)">S−FUND</text>
<text class="pl" transform="translate(635.8,408.8)">f</text>
</g>
<g id="panel-g">
<g clip-path="url(#cp12)">
<line class="zl" x1="1170.0" x2="1619.7" y1="587.5" y2="587.5"/>
<polygon points="1168.1,540.0 1170.7,539.7 1187.6,537.7 1221.4,538.9 1252.4,536.9 1259.4,534.6 1286.2,536.1 1303.1,535.5 1310.1,534.1 1336.9,533.2 1370.7,532.7 1386.6,532.1 1414.8,529.9 1428.9,528.5 1457.0,522.8 1468.3,518.6 1499.3,511.5 1527.4,505.9 1541.5,501.7 1561.2,502.3 1572.5,499.4 1597.9,489.9 1619.3,482.5 1621.6,481.7 1621.6,580.0 1619.3,580.6 1597.9,586.2 1572.5,593.2 1561.2,596.6 1541.5,596.9 1527.4,599.4 1499.3,604.5 1468.3,611.5 1457.0,614.4 1428.9,620.0 1414.8,620.8 1386.6,622.3 1370.7,623.7 1336.9,625.1 1310.1,625.9 1303.1,627.3 1286.2,627.9 1259.4,626.5 1252.4,628.5 1221.4,629.9 1187.6,629.0 1170.7,630.7 1168.1,631.0" fill="#e0217f" stroke="#260515" stroke-width="2.4" stroke-linejoin="round"/>
<polyline points="1168.1,586.5 1170.7,586.2 1187.6,584.2 1221.4,584.8 1252.4,582.8 1259.4,580.6 1286.2,582.0 1303.1,581.4 1310.1,580.0 1336.9,579.4 1370.7,578.6 1386.6,577.7 1414.8,575.5 1428.9,574.4 1457.0,569.3 1468.3,565.6 1499.3,560.0 1526.9,553.8 1535.6,552.4 1541.4,549.6 1544.3,548.6 1549.6,548.4 1555.9,549.0 1562.6,548.6 1566.6,548.0 1572.5,546.2 1597.9,538.3 1619.3,531.8 1621.6,531.1" fill="none" stroke="#16030c" stroke-width="3.0" stroke-linejoin="round"/>
<g class="ob"><g stroke-width="1.9"><circle cx="1523.2" cy="558.0" r="4.2"/>
<circle cx="1549.7" cy="550.7" r="4.2"/></g></g>
</g>
<rect class="fr" x="1170.05" y="432.0" width="449.65" height="310.8"/>
<path class="tk" d="M1158.0,440.2H1170.0M1158.0,513.9H1170.0M1158.0,587.5H1170.0M1158.0,661.1H1170.0M1158.0,734.9H1170.0M1168.8,742.8V755.5M1300.1,742.8V755.5M1431.4,742.8V755.5M1562.7,742.8V755.5"/>
<text class="nm" transform="translate(1186.0,473.5) scale(0.953,1)">S−Hector</text>
<text class="pl" transform="translate(1134.0,408.8)">g</text>
</g>
<g id="panel-h">
<g clip-path="url(#cp13)">
<line class="zl" x1="1668.5" x2="2118.1" y1="587.5" y2="587.5"/>
<polygon points="1666.5,540.0 1669.1,539.7 1686.0,537.7 1719.8,538.9 1750.8,536.9 1757.8,534.6 1784.6,536.1 1801.5,535.5 1808.5,534.1 1835.3,533.2 1869.1,532.7 1885.0,532.1 1913.2,529.9 1927.3,528.5 1955.4,522.8 1966.7,518.6 1997.7,511.5 2025.8,505.9 2039.9,501.7 2059.6,502.3 2070.9,499.4 2096.3,489.9 2117.7,482.5 2120.0,481.7 2120.0,580.0 2117.7,580.6 2096.3,586.2 2070.9,593.2 2059.6,596.6 2039.9,596.9 2025.8,599.4 1997.7,604.5 1966.7,611.5 1955.4,614.4 1927.3,620.0 1913.2,620.8 1885.0,622.3 1869.1,623.7 1835.3,625.1 1808.5,625.9 1801.5,627.3 1784.6,627.9 1757.8,626.5 1750.8,628.5 1719.8,629.9 1686.0,629.0 1669.1,630.7 1666.5,631.0" fill="#ff6600" stroke="#2b1100" stroke-width="2.4" stroke-linejoin="round"/>
<polyline points="1666.5,586.5 1669.1,586.2 1686.0,584.2 1719.8,584.8 1750.8,582.8 1757.8,580.6 1784.6,582.0 1801.5,581.4 1808.5,580.0 1835.3,579.4 1869.1,578.6 1885.0,577.7 1913.2,575.5 1927.3,574.4 1955.4,569.3 1966.7,565.6 1997.7,560.0 2025.3,553.8 2034.0,552.4 2039.8,549.6 2042.7,548.6 2048.0,548.4 2054.3,549.0 2061.0,548.6 2065.0,548.0 2070.9,546.2 2096.3,538.3 2117.7,531.8 2120.0,531.1" fill="none" stroke="#190a00" stroke-width="3.0" stroke-linejoin="round"/>
<g class="ob"><g stroke-width="1.9"><circle cx="2021.6" cy="558.0" r="4.2"/>
<circle cx="2048.1" cy="550.7" r="4.2"/></g></g>
</g>
<rect class="fr" x="1668.45" y="432.0" width="449.65" height="310.8"/>
<path class="tk" d="M1656.4,440.2H1668.5M1656.4,513.9H1668.5M1656.4,587.5H1668.5M1656.4,661.1H1668.5M1656.4,734.9H1668.5M1667.2,742.8V755.5M1798.5,742.8V755.5M1929.8,742.8V755.5M2061.1,742.8V755.5"/>
<text class="nm" transform="translate(1684.4,473.5) scale(0.94,1)">S−MAGICC</text>
<text class="pl" transform="translate(1632.8,408.8)">h</text>
</g>
<g id="panel-i">
<g clip-path="url(#cp20)">
<line class="zl" x1="173.4" x2="623.1" y1="970.3" y2="970.3"/>
<polygon points="171.5,970.9 174.1,970.4 185.4,968.5 195.2,971.0 230.4,963.4 255.8,960.6 258.6,962.0 265.6,969.9 281.1,973.2 306.5,968.2 316.3,970.4 340.3,964.8 374.1,954.4 400.0,945.9 425.0,933.8 439.9,928.9 443.2,935.5 445.7,938.8 447.9,947.1 450.7,914.8 453.5,930.5 456.1,904.0 458.1,903.2 460.9,896.6 464.3,933.0 466.4,934.7 469.7,943.8 472.2,944.6 474.0,955.4 477.2,931.7 480.0,947.9 482.1,953.7 484.6,947.6 487.1,951.2 491.3,947.9 493.4,943.8 495.4,929.4 497.9,943.8 500.4,933.8 503.2,923.4 507.8,942.1 511.1,923.4 513.6,936.3 515.8,930.5 518.6,938.0 521.1,914.0 523.1,915.6 526.9,910.1 529.3,915.6 532.2,932.2 534.3,919.8 536.8,916.8 539.3,921.4 542.3,927.2 545.1,912.3 547.6,903.5 550.9,912.3 554.2,905.2 557.5,906.2 565.2,897.3 576.5,884.6 586.3,874.8 596.2,863.5 603.2,853.7 611.7,841.0 617.3,831.1 622.3,822.0 625.0,817.1 625.0,907.5 622.3,910.7 614.5,919.9 603.2,932.5 594.8,942.4 589.2,948.0 579.3,956.5 569.4,967.7 560.8,977.7 557.5,982.7 554.2,991.0 550.9,989.6 547.9,1001.7 545.1,989.3 542.3,973.6 537.6,992.6 534.6,995.1 532.2,987.7 529.3,1007.5 526.5,1017.5 524.4,1015.8 521.4,1016.6 518.6,990.1 515.8,997.6 513.6,998.4 511.1,1015.8 507.8,1001.7 503.2,1028.2 500.4,1020.8 497.9,1010.8 495.4,1028.2 492.6,1015.8 487.1,1017.5 484.6,1021.6 482.5,1015.5 480.0,1022.4 477.0,1040.7 474.0,1017.5 472.2,1024.9 468.4,1021.6 466.4,1029.9 464.3,1031.6 460.9,1069.6 459.0,1067.2 456.1,1067.2 453.2,1044.0 450.7,1062.2 447.9,1033.2 444.9,1044.0 441.6,1047.3 439.1,1054.7 425.0,1060.5 400.0,1071.8 374.1,1081.7 340.3,1092.4 316.3,1098.6 306.5,1096.3 281.1,1102.3 265.6,1098.6 258.6,1090.1 255.8,1089.3 230.4,1093.0 195.2,1100.8 185.4,1098.0 174.1,1100.0 171.5,1100.5" fill="#12b5f8" stroke="#031e2a" stroke-width="2.4" stroke-linejoin="round"/>
<polyline points="171.5,1034.8 174.1,1034.4 185.4,1032.4 195.2,1035.2 230.4,1026.8 255.8,1024.5 258.6,1025.4 265.6,1033.2 281.1,1037.2 306.5,1031.5 316.3,1033.8 340.3,1027.6 374.1,1016.9 400.0,1007.9 425.0,998.4 441.6,991.3 458.1,986.0 474.7,981.9 491.3,979.4 499.5,976.9 507.8,972.8 514.4,967.8 524.4,964.5 534.3,956.2 539.3,951.6 544.3,950.9 550.9,952.0 557.5,945.4 572.3,924.1 586.3,911.4 594.8,901.5 603.2,890.3 614.5,876.2 622.3,866.3 625.0,862.9" fill="none" stroke="#011218" stroke-width="2.8" stroke-linejoin="round"/>
<g class="ob"><g stroke-width="1.8"><circle cx="442.6" cy="997.6" r="3.9"/>
<circle cx="445.2" cy="986.5" r="3.9"/>
<circle cx="447.8" cy="989.3" r="3.9"/>
<circle cx="450.5" cy="990.1" r="3.9"/>
<circle cx="453.1" cy="993.5" r="3.9"/>
<circle cx="455.7" cy="990.1" r="3.9"/>
<circle cx="458.3" cy="988.5" r="3.9"/>
<circle cx="461.0" cy="985.2" r="3.9"/>
<circle cx="463.6" cy="993.5" r="3.9"/>
<circle cx="466.2" cy="990.1" r="3.9"/>
<circle cx="468.8" cy="991.0" r="3.9"/>
<circle cx="471.5" cy="983.5" r="3.9"/>
<circle cx="474.1" cy="982.7" r="3.9"/>
<circle cx="476.7" cy="980.2" r="3.9"/>
<circle cx="479.3" cy="979.4" r="3.9"/>
<circle cx="482.0" cy="976.1" r="3.9"/>
<circle cx="484.6" cy="986.0" r="3.9"/>
<circle cx="487.2" cy="982.7" r="3.9"/>
<circle cx="489.8" cy="980.2" r="3.9"/>
<circle cx="492.5" cy="976.1" r="3.9"/>
<circle cx="495.1" cy="971.9" r="3.9"/>
<circle cx="497.7" cy="967.8" r="3.9"/>
<circle cx="500.4" cy="962.5" r="3.9"/>
<circle cx="503.0" cy="953.7" r="3.9"/>
<circle cx="505.6" cy="957.8" r="3.9"/>
<circle cx="508.2" cy="952.9" r="3.9"/>
<circle cx="510.9" cy="950.4" r="3.9"/>
<circle cx="513.5" cy="956.5" r="3.9"/>
<circle cx="516.1" cy="965.3" r="3.9"/>
<circle cx="518.7" cy="962.0" r="3.9"/>
<circle cx="521.4" cy="966.1" r="3.9"/>
<circle cx="524.0" cy="967.0" r="3.9"/>
<circle cx="526.6" cy="966.5" r="3.9"/>
<circle cx="529.2" cy="963.6" r="3.9"/>
<circle cx="531.9" cy="960.3" r="3.9"/>
<circle cx="534.5" cy="959.5" r="3.9"/>
<circle cx="537.1" cy="963.6" r="3.9"/>
<circle cx="539.7" cy="961.2" r="3.9"/>
<circle cx="542.4" cy="965.8" r="3.9"/>
<circle cx="545.0" cy="966.1" r="3.9"/>
<circle cx="547.6" cy="965.0" r="3.9"/>
<circle cx="550.2" cy="957.5" r="3.9"/>
<circle cx="552.9" cy="950.9" r="3.9"/>
<circle cx="555.5" cy="938.0" r="3.9"/></g></g>
</g>
<rect class="fr" x="173.45" y="814.5" width="449.65" height="311.4"/>
<path class="tk" d="M161.3,836.1H173.4M161.3,970.3H173.4M161.3,1104.5H173.4M172.2,1125.9V1138.6M303.5,1125.9V1138.6M434.8,1125.9V1138.6M566.1,1125.9V1138.6"/>
<text class="tl te" transform="translate(151.3,846.6) scale(0.927,1)">60</text>
<text class="tl te" transform="translate(151.3,980.8) scale(0.927,1)">0</text>
<text class="tl te" transform="translate(151.3,1115.0) scale(0.927,1)">−60</text>
<text class="yl" transform="translate(48.7,979.0) rotate(-90) scale(0.981,1)">Global ocean heat</text>
<text class="yl" transform="translate(80.3,978.8) rotate(-90) scale(0.981,1)">content (10²² J)</text>
<text class="tl tm" transform="translate(172.2,1167.7) scale(0.927,1)">1850</text>
<text class="tl tm" transform="translate(303.5,1167.7) scale(0.927,1)">1900</text>
<text class="tl tm" transform="translate(434.8,1167.7) scale(0.927,1)">1950</text>
<text class="tl tm" transform="translate(566.1,1167.7) scale(0.927,1)">2000</text>
<text class="tl tm" transform="translate(398.3,1205.5) scale(0.945,1)" style="font-size:30.3px">Year</text>
<text class="nm" transform="translate(189.3,856.0) scale(0.948,1)">S−FAIR</text>
<text class="pl" transform="translate(0.5,790.5)">i</text>
</g>
<g id="panel-j">
<g clip-path="url(#cp21)">
<line class="zl" x1="671.6" x2="1121.3" y1="970.3" y2="970.3"/>
<polygon points="669.7,980.6 672.3,980.1 683.6,977.7 693.4,979.8 728.6,970.8 754.0,967.0 756.8,968.3 763.8,976.1 779.3,979.3 804.7,973.1 814.5,974.9 838.5,968.2 872.3,956.3 898.2,947.2 923.2,934.3 938.1,928.9 941.4,935.5 943.9,938.8 946.1,947.1 948.9,914.8 951.7,930.5 954.3,904.0 956.3,903.2 959.1,896.6 962.5,933.0 964.6,934.7 967.9,943.8 970.4,944.6 972.2,955.4 975.4,931.7 978.2,947.9 980.3,953.7 982.8,947.6 985.3,951.2 989.5,947.9 991.6,943.8 993.6,929.4 996.1,943.8 998.6,933.8 1001.4,923.4 1006.0,942.1 1009.3,923.4 1011.8,936.3 1014.0,930.5 1016.8,938.0 1019.3,914.0 1021.3,915.6 1025.1,910.1 1027.5,915.6 1030.4,932.2 1032.5,919.8 1035.0,916.8 1037.5,921.4 1040.5,927.2 1043.3,912.3 1045.8,903.5 1049.1,912.3 1052.4,905.2 1055.7,906.2 1063.4,897.1 1074.7,884.1 1084.5,874.0 1094.4,862.4 1101.4,852.3 1109.9,839.2 1115.5,829.1 1120.5,819.7 1123.2,814.7 1123.2,903.8 1120.5,907.2 1112.7,916.9 1101.4,930.3 1093.0,940.7 1087.4,946.5 1077.5,955.5 1067.6,967.2 1059.0,977.7 1055.7,982.7 1052.4,991.0 1049.1,989.7 1046.1,1001.8 1043.3,989.4 1040.5,973.7 1035.8,992.8 1032.8,995.3 1030.4,987.8 1027.5,1007.7 1024.7,1017.7 1022.6,1016.0 1019.6,1016.9 1016.8,990.4 1014.0,997.8 1011.8,998.7 1009.3,1016.1 1006.0,1002.0 1001.4,1028.6 998.6,1021.1 996.1,1011.2 993.6,1028.6 990.8,1016.2 985.3,1017.9 982.8,1022.0 980.7,1015.9 978.2,1022.9 975.2,1041.1 972.2,1018.0 970.4,1025.4 966.6,1022.2 964.6,1030.7 962.5,1032.5 959.1,1070.9 957.2,1068.6 954.3,1068.8 951.4,1045.9 948.9,1064.3 946.1,1035.6 943.1,1046.6 939.8,1050.2 937.3,1057.8 923.2,1064.4 898.2,1076.9 872.3,1087.4 838.5,1099.0 814.5,1105.8 804.7,1103.8 779.3,1110.4 763.8,1107.0 756.8,1098.7 754.0,1097.9 728.6,1103.4 693.4,1113.8 683.6,1111.7 672.3,1114.4 669.7,1115.0" fill="#7a5cee" stroke="#140f28" stroke-width="2.4" stroke-linejoin="round"/>
<polyline points="669.7,1046.3 672.3,1045.8 683.6,1043.3 693.4,1045.7 728.6,1035.6 754.0,1032.1 756.8,1032.8 763.8,1040.3 779.3,1043.3 804.7,1037.1 814.5,1039.1 838.5,1032.1 872.3,1020.4 898.2,1010.5 923.2,999.9 939.8,992.2 956.3,986.5 972.9,982.0 989.5,979.4 997.7,976.9 1006.0,972.8 1012.6,967.8 1022.6,964.5 1032.5,956.2 1037.5,951.6 1042.5,950.9 1049.1,952.0 1055.7,945.4 1070.5,923.6 1084.5,910.4 1093.0,900.2 1101.4,888.6 1112.7,873.8 1120.5,863.5 1123.2,859.9" fill="none" stroke="#0c0917" stroke-width="2.8" stroke-linejoin="round"/>
<g class="ob"><g stroke-width="1.8"><circle cx="940.8" cy="997.6" r="3.9"/>
<circle cx="943.4" cy="986.5" r="3.9"/>
<circle cx="946.0" cy="989.3" r="3.9"/>
<circle cx="948.7" cy="990.1" r="3.9"/>
<circle cx="951.3" cy="993.5" r="3.9"/>
<circle cx="953.9" cy="990.1" r="3.9"/>
<circle cx="956.5" cy="988.5" r="3.9"/>
<circle cx="959.2" cy="985.2" r="3.9"/>
<circle cx="961.8" cy="993.5" r="3.9"/>
<circle cx="964.4" cy="990.1" r="3.9"/>
<circle cx="967.0" cy="991.0" r="3.9"/>
<circle cx="969.7" cy="983.5" r="3.9"/>
<circle cx="972.3" cy="982.7" r="3.9"/>
<circle cx="974.9" cy="980.2" r="3.9"/>
<circle cx="977.5" cy="979.4" r="3.9"/>
<circle cx="980.2" cy="976.1" r="3.9"/>
<circle cx="982.8" cy="986.0" r="3.9"/>
<circle cx="985.4" cy="982.7" r="3.9"/>
<circle cx="988.0" cy="980.2" r="3.9"/>
<circle cx="990.7" cy="976.1" r="3.9"/>
<circle cx="993.3" cy="971.9" r="3.9"/>
<circle cx="995.9" cy="967.8" r="3.9"/>
<circle cx="998.5" cy="962.5" r="3.9"/>
<circle cx="1001.2" cy="953.7" r="3.9"/>
<circle cx="1003.8" cy="957.8" r="3.9"/>
<circle cx="1006.4" cy="952.9" r="3.9"/>
<circle cx="1009.1" cy="950.4" r="3.9"/>
<circle cx="1011.7" cy="956.5" r="3.9"/>
<circle cx="1014.3" cy="965.3" r="3.9"/>
<circle cx="1016.9" cy="962.0" r="3.9"/>
<circle cx="1019.6" cy="966.1" r="3.9"/>
<circle cx="1022.2" cy="967.0" r="3.9"/>
<circle cx="1024.8" cy="966.5" r="3.9"/>
<circle cx="1027.4" cy="963.6" r="3.9"/>
<circle cx="1030.1" cy="960.3" r="3.9"/>
<circle cx="1032.7" cy="959.5" r="3.9"/>
<circle cx="1035.3" cy="963.6" r="3.9"/>
<circle cx="1037.9" cy="961.2" r="3.9"/>
<circle cx="1040.6" cy="965.8" r="3.9"/>
<circle cx="1043.2" cy="966.1" r="3.9"/>
<circle cx="1045.8" cy="965.0" r="3.9"/>
<circle cx="1048.4" cy="957.5" r="3.9"/>
<circle cx="1051.1" cy="950.9" r="3.9"/>
<circle cx="1053.7" cy="938.0" r="3.9"/></g></g>
</g>
<rect class="fr" x="671.65" y="814.5" width="449.65" height="311.4"/>
<path class="tk" d="M659.5,836.1H671.6M659.5,970.3H671.6M659.5,1104.5H671.6M670.4,1125.9V1138.6M801.7,1125.9V1138.6M933.0,1125.9V1138.6M1064.3,1125.9V1138.6"/>
<text class="tl tm" transform="translate(670.4,1167.7) scale(0.927,1)">1850</text>
<text class="tl tm" transform="translate(801.7,1167.7) scale(0.927,1)">1900</text>
<text class="tl tm" transform="translate(933.0,1167.7) scale(0.927,1)">1950</text>
<text class="tl tm" transform="translate(1064.3,1167.7) scale(0.927,1)">2000</text>
<text class="tl tm" transform="translate(896.5,1205.5) scale(0.945,1)" style="font-size:30.3px">Year</text>
<text class="nm" transform="translate(687.5,856.0) scale(0.948,1)">S−FUND</text>
<text class="pl" transform="translate(635.8,790.5)">j</text>
</g>
<g id="panel-k">
<g clip-path="url(#cp22)">
<line class="zl" x1="1170.0" x2="1619.7" y1="970.3" y2="970.3"/>
<polygon points="1168.1,972.9 1170.7,972.4 1182.0,970.3 1191.8,972.8 1227.0,964.9 1252.4,961.8 1255.2,963.2 1262.2,971.0 1277.7,974.3 1303.1,969.0 1312.9,971.2 1336.9,965.4 1370.7,954.7 1396.6,946.1 1421.6,933.9 1436.5,928.9 1439.8,935.5 1442.3,938.8 1444.5,947.1 1447.3,914.8 1450.1,930.5 1452.7,904.0 1454.7,903.2 1457.5,896.6 1460.9,933.0 1463.0,934.7 1466.3,943.8 1468.8,944.6 1470.6,955.4 1473.8,931.7 1476.6,947.9 1478.7,953.7 1481.2,947.6 1483.7,951.2 1487.9,947.9 1490.0,943.8 1492.0,929.4 1494.5,943.8 1497.0,933.8 1499.8,923.4 1504.4,942.1 1507.7,923.4 1510.2,936.3 1512.4,930.5 1515.2,938.0 1517.7,914.0 1519.7,915.6 1523.5,910.1 1525.9,915.6 1528.8,932.2 1530.9,919.8 1533.4,916.8 1535.9,921.4 1538.9,927.2 1541.7,912.3 1544.2,903.5 1547.5,912.3 1550.8,905.2 1554.1,906.2 1561.8,897.3 1573.1,884.6 1582.9,874.8 1592.8,863.5 1599.8,853.7 1608.3,841.0 1613.9,831.1 1618.9,822.0 1621.6,817.1 1621.6,907.5 1618.9,910.7 1611.1,919.9 1599.8,932.5 1591.4,942.4 1585.8,948.0 1575.9,956.5 1566.0,967.7 1557.4,977.7 1554.1,982.7 1550.8,991.0 1547.5,989.6 1544.5,1001.7 1541.7,989.3 1538.9,973.6 1534.2,992.6 1531.2,995.1 1528.8,987.7 1525.9,1007.5 1523.1,1017.5 1521.0,1015.8 1518.0,1016.6 1515.2,990.1 1512.4,997.6 1510.2,998.4 1507.7,1015.8 1504.4,1001.7 1499.8,1028.2 1497.0,1020.8 1494.5,1010.8 1492.0,1028.2 1489.2,1015.8 1483.7,1017.5 1481.2,1021.6 1479.1,1015.5 1476.6,1022.4 1473.6,1040.7 1470.6,1017.5 1468.8,1024.9 1465.0,1021.6 1463.0,1029.9 1460.9,1031.6 1457.5,1069.6 1455.6,1067.2 1452.7,1067.2 1449.8,1044.0 1447.3,1062.2 1444.5,1033.2 1441.5,1044.0 1438.2,1047.3 1435.7,1054.7 1421.6,1060.6 1396.6,1072.0 1370.7,1082.1 1336.9,1093.1 1312.9,1099.5 1303.1,1097.4 1277.7,1103.5 1262.2,1100.0 1255.2,1091.6 1252.4,1090.8 1227.0,1094.7 1191.8,1103.0 1182.0,1100.3 1170.7,1102.4 1168.1,1102.9" fill="#e0217f" stroke="#260515" stroke-width="2.4" stroke-linejoin="round"/>
<polyline points="1168.1,1037.4 1170.7,1037.0 1182.0,1034.9 1191.8,1037.7 1227.0,1029.0 1252.4,1026.6 1255.2,1027.4 1262.2,1035.3 1277.7,1039.1 1303.1,1033.3 1312.9,1035.5 1336.9,1029.3 1370.7,1018.4 1396.6,1009.3 1421.6,999.3 1438.2,991.6 1454.7,986.0 1471.3,981.9 1487.9,979.4 1496.1,976.9 1504.4,972.8 1511.0,967.8 1521.0,964.5 1530.9,956.2 1535.9,951.6 1540.9,950.9 1547.5,952.0 1554.1,945.4 1568.9,924.1 1582.9,911.4 1591.4,901.5 1599.8,890.3 1611.1,876.2 1618.9,866.3 1621.6,862.9" fill="none" stroke="#16030c" stroke-width="2.8" stroke-linejoin="round"/>
<g class="ob"><g stroke-width="1.8"><circle cx="1439.2" cy="997.6" r="3.9"/>
<circle cx="1441.8" cy="986.5" r="3.9"/>
<circle cx="1444.4" cy="989.3" r="3.9"/>
<circle cx="1447.1" cy="990.1" r="3.9"/>
<circle cx="1449.7" cy="993.5" r="3.9"/>
<circle cx="1452.3" cy="990.1" r="3.9"/>
<circle cx="1454.9" cy="988.5" r="3.9"/>
<circle cx="1457.6" cy="985.2" r="3.9"/>
<circle cx="1460.2" cy="993.5" r="3.9"/>
<circle cx="1462.8" cy="990.1" r="3.9"/>
<circle cx="1465.4" cy="991.0" r="3.9"/>
<circle cx="1468.1" cy="983.5" r="3.9"/>
<circle cx="1470.7" cy="982.7" r="3.9"/>
<circle cx="1473.3" cy="980.2" r="3.9"/>
<circle cx="1475.9" cy="979.4" r="3.9"/>
<circle cx="1478.6" cy="976.1" r="3.9"/>
<circle cx="1481.2" cy="986.0" r="3.9"/>
<circle cx="1483.8" cy="982.7" r="3.9"/>
<circle cx="1486.4" cy="980.2" r="3.9"/>
<circle cx="1489.1" cy="976.1" r="3.9"/>
<circle cx="1491.7" cy="971.9" r="3.9"/>
<circle cx="1494.3" cy="967.8" r="3.9"/>
<circle cx="1497.0" cy="962.5" r="3.9"/>
<circle cx="1499.6" cy="953.7" r="3.9"/>
<circle cx="1502.2" cy="957.8" r="3.9"/>
<circle cx="1504.8" cy="952.9" r="3.9"/>
<circle cx="1507.5" cy="950.4" r="3.9"/>
<circle cx="1510.1" cy="956.5" r="3.9"/>
<circle cx="1512.7" cy="965.3" r="3.9"/>
<circle cx="1515.3" cy="962.0" r="3.9"/>
<circle cx="1518.0" cy="966.1" r="3.9"/>
<circle cx="1520.6" cy="967.0" r="3.9"/>
<circle cx="1523.2" cy="966.5" r="3.9"/>
<circle cx="1525.8" cy="963.6" r="3.9"/>
<circle cx="1528.5" cy="960.3" r="3.9"/>
<circle cx="1531.1" cy="959.5" r="3.9"/>
<circle cx="1533.7" cy="963.6" r="3.9"/>
<circle cx="1536.3" cy="961.2" r="3.9"/>
<circle cx="1539.0" cy="965.8" r="3.9"/>
<circle cx="1541.6" cy="966.1" r="3.9"/>
<circle cx="1544.2" cy="965.0" r="3.9"/>
<circle cx="1546.8" cy="957.5" r="3.9"/>
<circle cx="1549.5" cy="950.9" r="3.9"/>
<circle cx="1552.1" cy="938.0" r="3.9"/></g></g>
</g>
<rect class="fr" x="1170.05" y="814.5" width="449.65" height="311.4"/>
<path class="tk" d="M1158.0,836.1H1170.0M1158.0,970.3H1170.0M1158.0,1104.5H1170.0M1168.8,1125.9V1138.6M1300.1,1125.9V1138.6M1431.4,1125.9V1138.6M1562.7,1125.9V1138.6"/>
<text class="tl tm" transform="translate(1168.8,1167.7) scale(0.927,1)">1850</text>
<text class="tl tm" transform="translate(1300.1,1167.7) scale(0.927,1)">1900</text>
<text class="tl tm" transform="translate(1431.4,1167.7) scale(0.927,1)">1950</text>
<text class="tl tm" transform="translate(1562.7,1167.7) scale(0.927,1)">2000</text>
<text class="tl tm" transform="translate(1394.9,1205.5) scale(0.945,1)" style="font-size:30.3px">Year</text>
<text class="nm" transform="translate(1186.0,856.0) scale(0.953,1)">S−Hector</text>
<text class="pl" transform="translate(1134.0,790.5)">k</text>
</g>
<g id="panel-l">
<g clip-path="url(#cp23)">
<line class="zl" x1="1668.5" x2="2118.1" y1="970.3" y2="970.3"/>
<polygon points="1666.5,967.5 1669.1,967.1 1680.4,965.3 1690.2,967.9 1725.4,960.9 1750.8,958.4 1753.6,959.9 1760.6,967.9 1776.1,971.5 1801.5,966.7 1811.3,969.1 1835.3,963.8 1869.1,953.8 1895.0,945.6 1920.0,933.8 1934.9,928.9 1938.2,935.5 1940.7,938.8 1942.9,947.1 1945.7,914.8 1948.5,930.5 1951.1,904.0 1953.1,903.2 1955.9,896.6 1959.3,933.0 1961.4,934.7 1964.7,943.8 1967.2,944.6 1969.0,955.4 1972.2,931.7 1975.0,947.9 1977.1,953.7 1979.6,947.6 1982.1,951.2 1986.3,947.9 1988.4,943.8 1990.4,929.4 1992.9,943.8 1995.4,933.8 1998.2,923.4 2002.8,942.1 2006.1,923.4 2008.6,936.3 2010.8,930.5 2013.6,938.0 2016.1,914.0 2018.1,915.6 2021.9,910.1 2024.3,915.6 2027.2,932.2 2029.3,919.8 2031.8,916.8 2034.3,921.4 2037.3,927.2 2040.1,912.3 2042.6,903.5 2045.9,912.3 2049.2,905.2 2052.5,906.2 2060.2,897.3 2071.5,884.6 2081.3,874.8 2091.2,863.5 2098.2,853.7 2106.7,841.0 2112.3,831.1 2117.3,822.0 2120.0,817.1 2120.0,907.5 2117.3,910.7 2109.5,919.9 2098.2,932.5 2089.8,942.4 2084.2,948.0 2074.3,956.5 2064.4,967.7 2055.8,977.7 2052.5,982.7 2049.2,991.0 2045.9,989.6 2042.9,1001.7 2040.1,989.3 2037.3,973.6 2032.6,992.6 2029.6,995.1 2027.2,987.7 2024.3,1007.5 2021.5,1017.5 2019.4,1015.8 2016.4,1016.6 2013.6,990.1 2010.8,997.6 2008.6,998.4 2006.1,1015.8 2002.8,1001.7 1998.2,1028.2 1995.4,1020.8 1992.9,1010.8 1990.4,1028.2 1987.6,1015.8 1982.1,1017.5 1979.6,1021.6 1977.5,1015.5 1975.0,1022.4 1972.0,1040.7 1969.0,1017.5 1967.2,1024.9 1963.4,1021.6 1961.4,1029.9 1959.3,1031.6 1955.9,1069.6 1954.0,1067.2 1951.1,1067.2 1948.2,1044.0 1945.7,1062.2 1942.9,1033.1 1939.9,1043.8 1936.6,1047.0 1934.1,1054.4 1920.0,1059.7 1895.0,1070.2 1869.1,1079.7 1835.3,1090.0 1811.3,1095.9 1801.5,1093.5 1776.1,1099.1 1760.6,1095.3 1753.6,1086.7 1750.8,1085.9 1725.4,1089.3 1690.2,1096.9 1680.4,1093.9 1669.1,1095.8 1666.5,1096.3" fill="#ff6600" stroke="#2b1100" stroke-width="2.4" stroke-linejoin="round"/>
<polyline points="1666.5,1031.2 1669.1,1030.8 1680.4,1029.0 1690.2,1032.0 1725.4,1024.1 1750.8,1022.2 1753.6,1023.1 1760.6,1031.1 1776.1,1035.3 1801.5,1030.0 1811.3,1032.4 1835.3,1026.6 1869.1,1016.3 1895.0,1007.6 1920.0,998.4 1936.6,991.3 1953.1,986.0 1969.7,981.9 1986.3,979.4 1994.5,976.9 2002.8,972.8 2009.4,967.8 2019.4,964.5 2029.3,956.2 2034.3,951.6 2039.3,950.9 2045.9,952.0 2052.5,945.4 2067.3,924.1 2081.3,911.4 2089.8,901.5 2098.2,890.3 2109.5,876.2 2117.3,866.3 2120.0,862.9" fill="none" stroke="#190a00" stroke-width="2.8" stroke-linejoin="round"/>
<g class="ob"><g stroke-width="1.8"><circle cx="1937.6" cy="997.6" r="3.9"/>
<circle cx="1940.2" cy="986.5" r="3.9"/>
<circle cx="1942.8" cy="989.3" r="3.9"/>
<circle cx="1945.5" cy="990.1" r="3.9"/>
<circle cx="1948.1" cy="993.5" r="3.9"/>
<circle cx="1950.7" cy="990.1" r="3.9"/>
<circle cx="1953.3" cy="988.5" r="3.9"/>
<circle cx="1956.0" cy="985.2" r="3.9"/>
<circle cx="1958.6" cy="993.5" r="3.9"/>
<circle cx="1961.2" cy="990.1" r="3.9"/>
<circle cx="1963.8" cy="991.0" r="3.9"/>
<circle cx="1966.5" cy="983.5" r="3.9"/>
<circle cx="1969.1" cy="982.7" r="3.9"/>
<circle cx="1971.7" cy="980.2" r="3.9"/>
<circle cx="1974.3" cy="979.4" r="3.9"/>
<circle cx="1977.0" cy="976.1" r="3.9"/>
<circle cx="1979.6" cy="986.0" r="3.9"/>
<circle cx="1982.2" cy="982.7" r="3.9"/>
<circle cx="1984.8" cy="980.2" r="3.9"/>
<circle cx="1987.5" cy="976.1" r="3.9"/>
<circle cx="1990.1" cy="971.9" r="3.9"/>
<circle cx="1992.7" cy="967.8" r="3.9"/>
<circle cx="1995.3" cy="962.5" r="3.9"/>
<circle cx="1998.0" cy="953.7" r="3.9"/>
<circle cx="2000.6" cy="957.8" r="3.9"/>
<circle cx="2003.2" cy="952.9" r="3.9"/>
<circle cx="2005.9" cy="950.4" r="3.9"/>
<circle cx="2008.5" cy="956.5" r="3.9"/>
<circle cx="2011.1" cy="965.3" r="3.9"/>
<circle cx="2013.7" cy="962.0" r="3.9"/>
<circle cx="2016.4" cy="966.1" r="3.9"/>
<circle cx="2019.0" cy="967.0" r="3.9"/>
<circle cx="2021.6" cy="966.5" r="3.9"/>
<circle cx="2024.2" cy="963.6" r="3.9"/>
<circle cx="2026.9" cy="960.3" r="3.9"/>
<circle cx="2029.5" cy="959.5" r="3.9"/>
<circle cx="2032.1" cy="963.6" r="3.9"/>
<circle cx="2034.7" cy="961.2" r="3.9"/>
<circle cx="2037.4" cy="965.8" r="3.9"/>
<circle cx="2040.0" cy="966.1" r="3.9"/>
<circle cx="2042.6" cy="965.0" r="3.9"/>
<circle cx="2045.2" cy="957.5" r="3.9"/>
<circle cx="2047.9" cy="950.9" r="3.9"/>
<circle cx="2050.5" cy="938.0" r="3.9"/></g></g>
</g>
<rect class="fr" x="1668.45" y="814.5" width="449.65" height="311.4"/>
<path class="tk" d="M1656.4,836.1H1668.5M1656.4,970.3H1668.5M1656.4,1104.5H1668.5M1667.2,1125.9V1138.6M1798.5,1125.9V1138.6M1929.8,1125.9V1138.6M2061.1,1125.9V1138.6"/>
<text class="tl tm" transform="translate(1667.2,1167.7) scale(0.927,1)">1850</text>
<text class="tl tm" transform="translate(1798.5,1167.7) scale(0.927,1)">1900</text>
<text class="tl tm" transform="translate(1929.8,1167.7) scale(0.927,1)">1950</text>
<text class="tl tm" transform="translate(2061.1,1167.7) scale(0.927,1)">2000</text>
<text class="tl tm" transform="translate(1893.3,1205.5) scale(0.945,1)" style="font-size:30.3px">Year</text>
<text class="nm" transform="translate(1684.4,856.0) scale(0.94,1)">S−MAGICC</text>
<text class="pl" transform="translate(1632.8,790.5)">l</text>
</g>
</svg>
</body>
</html>
